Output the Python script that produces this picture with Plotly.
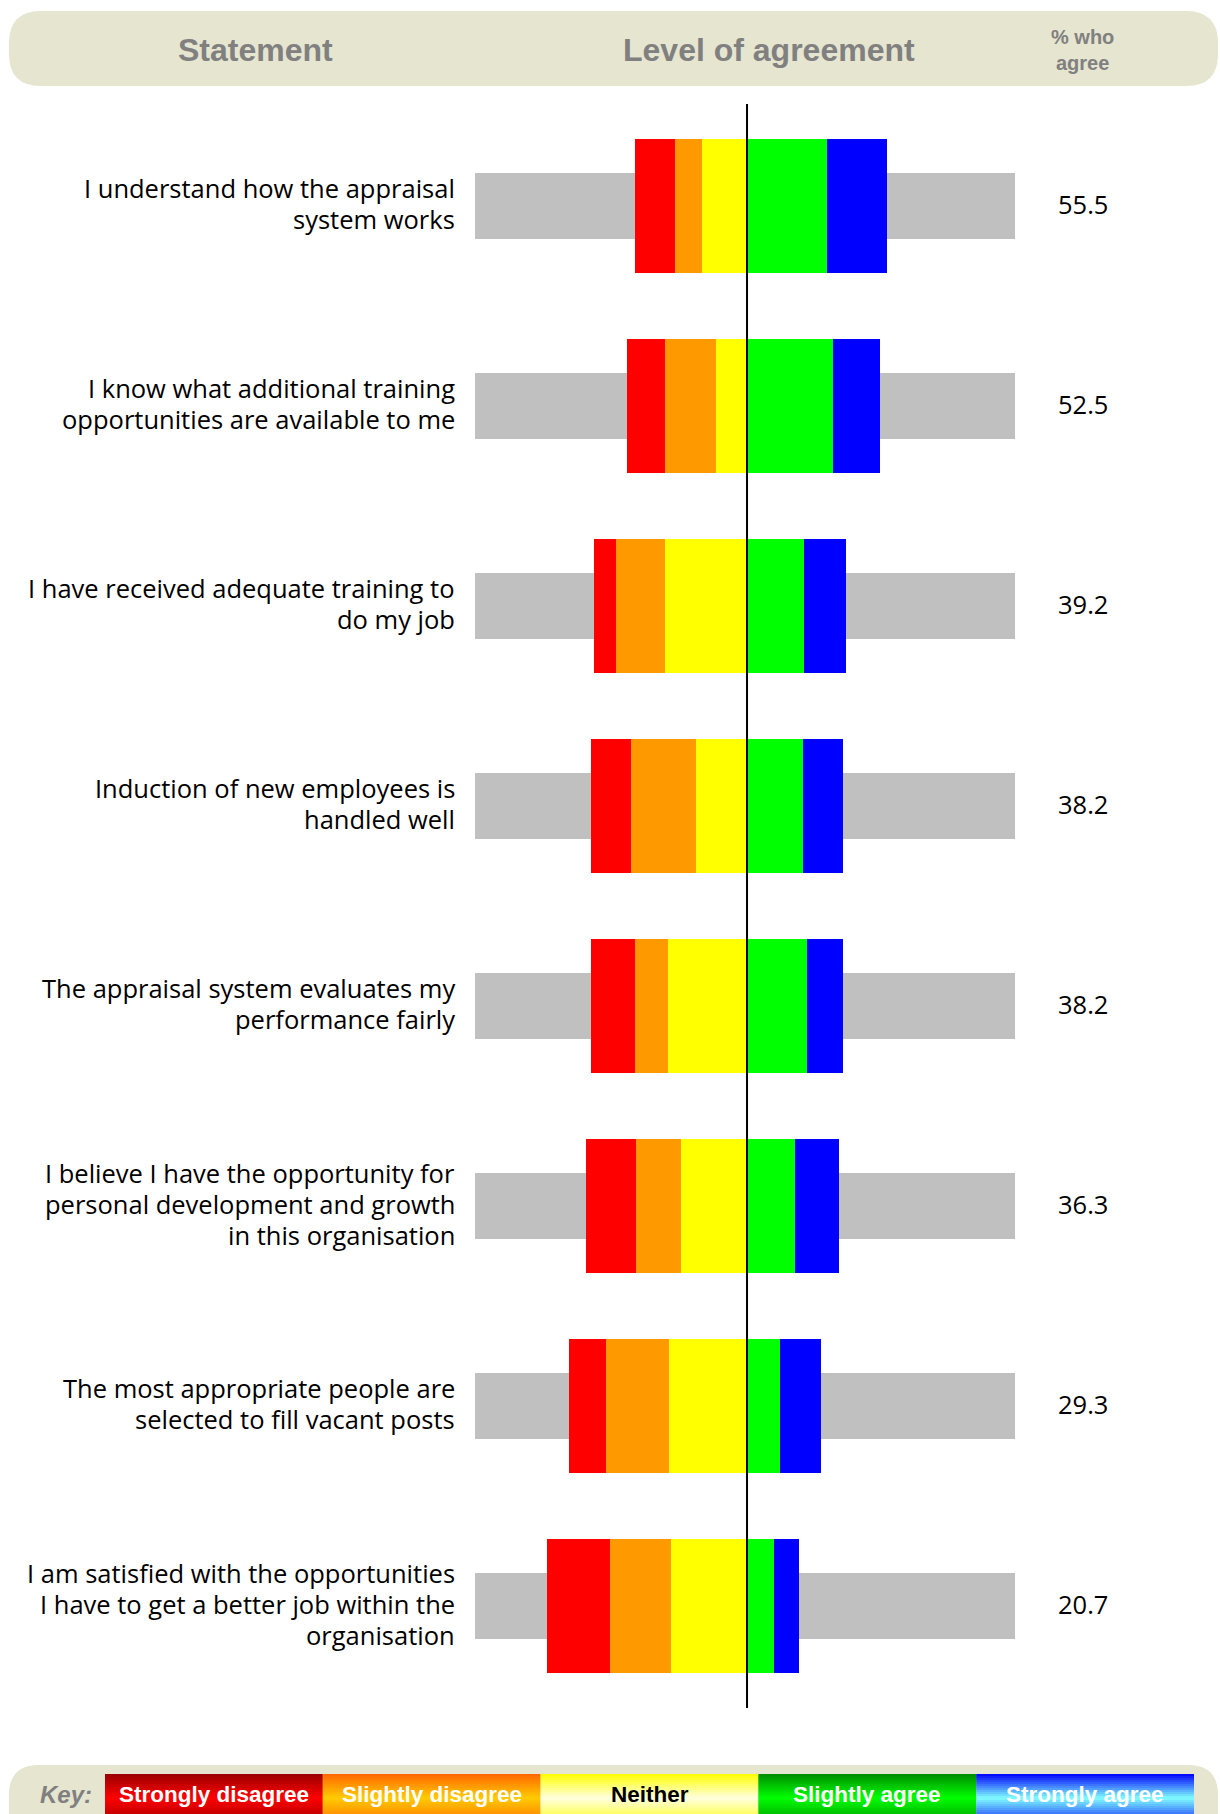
import plotly.graph_objects as go

# ---------------- data ----------------
statements = [
    "I understand how the appraisal<br>system works",
    "I know what additional training<br>opportunities are available to me",
    "I have received adequate training to<br>do my job",
    "Induction of new employees is<br>handled well",
    "The appraisal system evaluates my<br>performance fairly",
    "I believe I have the opportunity for<br>personal development and growth<br>in this organisation",
    "The most appropriate people are<br>selected to fill vacant posts",
    "I am satisfied with the opportunities<br>I have to get a better job within the<br>organisation",
]
strongly_disagree = [15.8, 14.9, 8.7, 15.8, 17.4, 19.7, 14.9, 25.1]
slightly_disagree = [11.0, 20.5, 19.4, 25.7, 13.1, 17.7, 24.8, 24.0]
neither = [17.7, 12.1, 32.7, 20.3, 31.3, 26.3, 31.0, 30.2]
slightly_agree = [31.7, 34.2, 22.7, 22.3, 23.9, 19.0, 12.9, 10.5]
strongly_agree = [23.8, 18.3, 16.5, 15.9, 14.3, 17.3, 16.4, 10.2]
pct_agree = ["55.5", "52.5", "39.2", "38.2", "38.2", "36.3", "29.3", "20.7"]
key_labels = ["Strongly disagree", "Slightly disagree", "Neither", "Slightly agree", "Strongly agree"]

# ---------------- layout geometry (pixels) ----------------
W_FIG, H_FIG = 1220, 1814
L, R = 475, 1015
T, B = 104, 1708
PW, PH = R - L, B - T
X_MIN, X_MAX = -107.8, 106.2
N = len(statements)
Y_TOP, Y_BOT = -0.51, N - 0.49
ROW_PX = PH / (Y_BOT - Y_TOP)


def xp(x):
    return (x - L) / PW


def yp(y):
    return (B - y) / PH


cats = list(range(N))
seg_colors = ["#FF0000", "#FF9900", "#FFFF00", "#00FF00", "#0000FF"]

fig = go.Figure()

# grey background bars
fig.add_trace(go.Bar(
    y=cats, x=[X_MAX - X_MIN] * N, base=[X_MIN] * N, orientation="h",
    width=0.33, marker=dict(color="#C0C0C0", line=dict(width=0)),
    hoverinfo="skip", showlegend=False,
))

left_total = [a + b + c for a, b, c in zip(strongly_disagree, slightly_disagree, neither)]
bases = [
    [-t for t in left_total],
    [-(b + c) for b, c in zip(slightly_disagree, neither)],
    [-c for c in neither],
    [0] * N,
    list(slightly_agree),
]
series = [strongly_disagree, slightly_disagree, neither, slightly_agree, strongly_agree]
for vals, base, col, name in zip(series, bases, seg_colors, key_labels):
    fig.add_trace(go.Bar(
        y=cats, x=vals, base=base, orientation="h", width=0.668, name=name,
        marker=dict(color=col, line=dict(width=0)), hoverinfo="skip", showlegend=False,
    ))

shapes = []
annotations = []

# centre line
shapes.append(dict(type="line", xref="x", yref="paper", x0=0, x1=0, y0=0, y1=1,
                   line=dict(color="black", width=2), layer="above"))


def pill(x0, y0, x1, y1, r, color):
    def P(x, y):
        return f"{xp(x):.5f},{yp(y):.5f}"
    path = (f"M {P(x0 + r, y0)} L {P(x1 - r, y0)} Q {P(x1, y0)} {P(x1, y0 + r)} "
            f"L {P(x1, y1 - r)} Q {P(x1, y1)} {P(x1 - r, y1)} L {P(x0 + r, y1)} "
            f"Q {P(x0, y1)} {P(x0, y1 - r)} L {P(x0, y0 + r)} Q {P(x0, y0)} {P(x0 + r, y0)} Z")
    return dict(type="path", xref="paper", yref="paper", path=path,
                fillcolor=color, line=dict(width=0), layer="below")


BEIGE = "#E6E5CF"
shapes.append(pill(9, 11, 1218, 86, 32, BEIGE))
shapes.append(pill(9, 1765, 1218, 1840, 30, BEIGE))

# header texts
hdr_font = dict(family="Arial, Liberation Sans, sans-serif", size=32, color="#808080")
annotations.append(dict(xref="paper", yref="paper", x=xp(255), y=yp(50), text="<b>Statement</b>",
                        showarrow=False, font=hdr_font, xanchor="center", yanchor="middle"))
annotations.append(dict(xref="paper", yref="paper", x=xp(769), y=yp(50), text="<b>Level of agreement</b>",
                        showarrow=False, font=hdr_font, xanchor="center", yanchor="middle"))
annotations.append(dict(xref="paper", yref="paper", x=xp(1082), y=yp(50), text="<b>% who<br>agree</b>",
                        showarrow=False, font=dict(family="Arial, Liberation Sans, sans-serif", size=20, color="#808080"),
                        xanchor="center", yanchor="middle"))

# statement labels (one annotation per line for exact line spacing) and values
lbl_font = dict(family="Open Sans, Lato, sans-serif", size=25.5, color="black")
LINE_PX = 31.0
TEXT_SHIFT = -2.5 / ROW_PX
for i, (s, v) in enumerate(zip(statements, pct_agree)):
    lines = s.split("<br>")
    n = len(lines)
    for k, line in enumerate(lines):
        off = (k - (n - 1) / 2) * LINE_PX / ROW_PX + TEXT_SHIFT
        annotations.append(dict(xref="paper", yref="y", x=xp(457), y=i + off, text=line, showarrow=False,
                                font=lbl_font, xanchor="right", yanchor="middle"))
    annotations.append(dict(xref="paper", yref="y", x=xp(1083), y=i + TEXT_SHIFT, text=v, showarrow=False,
                            font=lbl_font, xanchor="center", yanchor="middle"))

# key with gradients (stripes)
grad = [
    ("#990000", "#FF0000"),
    ("#FF6600", "#FFCC00"),
    ("#FFFF00", "#FFFFE0"),
    ("#008C00", "#00FF00"),
    ("#0000FF", "#80FFFF"),
]


def hx(c):
    return [int(c[i:i + 2], 16) for i in (1, 3, 5)]


def mix(a, b, f):
    A, Bc = hx(a), hx(b)
    return "#%02X%02X%02X" % tuple(round(A[k] + (Bc[k] - A[k]) * f) for k in range(3))


KX0, KW = 105, 217.8
KY0, KY1 = 1774, 1814
n_str = 20
for j, (dark, bright) in enumerate(grad):
    x0 = KX0 + j * KW
    x1 = x0 + KW
    for k in range(n_str):
        t = (k + 0.5) / n_str
        if t < 0.6:
            f = t / 0.6
        else:
            f = 1 - (t - 0.6) / 0.4 * 0.55
        c = mix(dark, bright, f)
        ya = KY0 + (KY1 - KY0) * k / n_str
        yb = KY0 + (KY1 - KY0) * (k + 1) / n_str + 0.6
        shapes.append(dict(type="rect", xref="paper", yref="paper", x0=xp(x0), x1=xp(x1),
                           y0=yp(yb), y1=yp(ya), fillcolor=c, line=dict(width=0), layer="below"))
    annotations.append(dict(xref="paper", yref="paper", x=xp((x0 + x1) / 2), y=yp(1795),
                            text=f"<b>{key_labels[j]}</b>", showarrow=False,
                            font=dict(family="Arial, Liberation Sans, sans-serif", size=22.5,
                                      color="black" if j == 2 else "white"),
                            xanchor="center", yanchor="middle"))

annotations.append(dict(xref="paper", yref="paper", x=xp(66), y=yp(1794), text="<b><i>Key:</i></b>",
                        showarrow=False, font=dict(family="Arial, Liberation Sans, sans-serif", size=24, color="#808080"),
                        xanchor="center", yanchor="middle"))

fig.update_layout(
    width=W_FIG, height=H_FIG,
    margin=dict(l=L, r=W_FIG - R, t=T, b=H_FIG - B, pad=0),
    barmode="overlay", bargap=0,
    plot_bgcolor="white", paper_bgcolor="white",
    xaxis=dict(range=[X_MIN, X_MAX], visible=False, fixedrange=True),
    yaxis=dict(range=[Y_BOT, Y_TOP], visible=False, fixedrange=True),
    shapes=shapes, annotations=annotations, showlegend=False,
)

fig.write_html("out.html")
